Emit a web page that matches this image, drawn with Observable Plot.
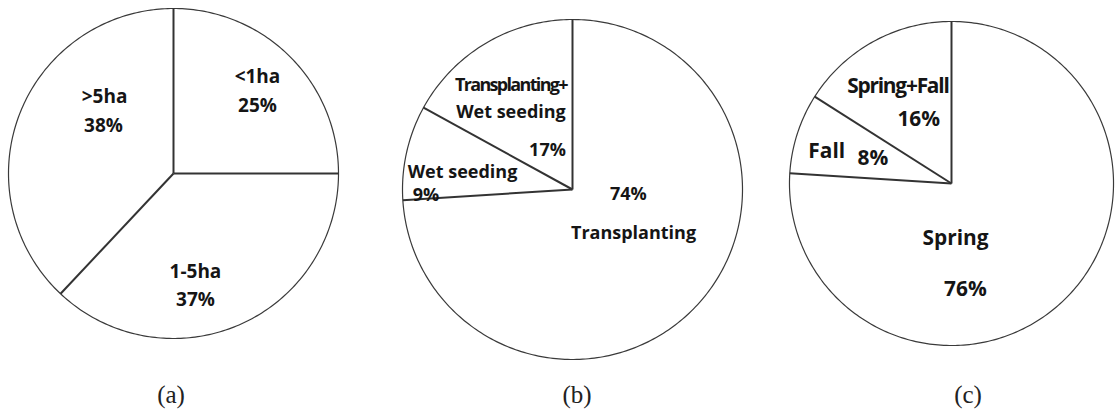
<!DOCTYPE html>
<html><head><meta charset="utf-8">
<script src="https://cdn.jsdelivr.net/npm/d3@7"></script>
<script src="https://cdn.jsdelivr.net/npm/@observablehq/plot@0.6"></script>
<style>
html,body{margin:0;padding:0;background:#fff;}
#root{position:relative;width:1117px;height:410px;overflow:hidden;background:#fff;}
.pie{position:absolute;}
.cap{position:absolute;font-family:"Liberation Serif",serif;font-size:25px;color:#222;transform:translateX(-50%);line-height:25px;white-space:nowrap;}
</style></head><body><div id="root"></div>
<script>
// ---- data ----
const farmSizeNames = ["<1ha", "1-5ha", ">5ha"];
const farmSizeValues = [25, 37, 38];
const methodNames = ["Transplanting", "Wet seeding", "Transplanting+\nWet seeding"];
const methodValues = [74, 9, 17];
const seasonNames = ["Spring", "Fall", "Spring+Fall"];
const seasonValues = [76, 8, 16];
const captions = ["(a)", "(b)", "(c)"];

// ---- layout (kept apart from the data) ----
const layouts = [
  {cx: 173, cy: 173, r: 165, font: 19, lh: 1.5, capX: 171,
   name: [[0.509, -0.606], [0.133, 0.576], [-0.418, -0.485]],
   pct:  [[0.509, -0.430], [0.133, 0.745], [-0.424, -0.309]]},
  {cx: 572, cy: 189, r: 170, font: 18, lh: 1.5, capX: 577,
   name: [[0.359, 0.241], [-0.647, -0.118], [-0.362, -0.55]],
   pct:  [[0.329, 0.012], [-0.862, 0.018], [-0.147, -0.247]]},
  {cx: 952, cy: 184, r: 163, font: 21, lh: 1.5, capX: 968,
   name: [[0.025, 0.319], [-0.770, -0.221], [-0.331, -0.620]],
   pct:  [[0.086, 0.632], [-0.485, -0.178], [-0.202, -0.417]]}
];
const condensed = {"Transplanting+": 112, "Spring+Fall": 102};

const root = document.getElementById("root");
const pad = 4;

function drawPie(names, values, L) {
  const arcs = d3.pie().sort(null).value(d => d)(values);
  const deg = Math.PI / 180;
  const slices = arcs.flatMap((a, i) => {
    const n = Math.max(2, Math.ceil((a.endAngle - a.startAngle) / deg));
    const pts = [{slice: i, x: 0, y: 0}];
    for (let k = 0; k <= n; k++) {
      const t = a.startAngle + (a.endAngle - a.startAngle) * k / n;
      pts.push({slice: i, x: Math.sin(t), y: -Math.cos(t)});
    }
    return pts;
  });
  const outline = slices.filter(p => !(p.x === 0 && p.y === 0));
  const edges = arcs.map(a => ({x: Math.sin(a.startAngle), y: -Math.cos(a.startAngle)}));
  const k = (L.r + pad) / L.r;
  const size = 2 * (L.r + pad);
  const txt = {fontFamily: "'Open Sans', sans-serif", fontWeight: "bold", fontSize: L.font, fill: "#151515", lineHeight: L.lh};
  const svg = Plot.plot({
    width: size, height: size, margin: 0,
    x: {domain: [-k, k], axis: null},
    y: {domain: [-k, k], reverse: true, axis: null},
    marks: [
      Plot.line(slices, {x: "x", y: "y", z: "slice", curve: "linear-closed", fill: "white", stroke: "none"}),
      Plot.line(outline, {x: "x", y: "y", curve: "linear-closed", stroke: "#3a3a3a", strokeWidth: 1.2}),
      Plot.link(edges, {x1: 0, y1: 0, x2: "x", y2: "y", stroke: "#333", strokeWidth: 2}),
      Plot.text(names, {x: (d, i) => L.name[i][0], y: (d, i) => L.name[i][1], text: d => d, ...txt}),
      Plot.text(values, {x: (d, i) => L.pct[i][0], y: (d, i) => L.pct[i][1], text: d => `${d}%`, ...txt})
    ]
  });
  const div = document.createElement("div");
  div.className = "pie";
  div.style.left = (L.cx - L.r - pad) + "px";
  div.style.top = (L.cy - L.r - pad) + "px";
  div.appendChild(svg);
  root.appendChild(div);
  // condense the long combined labels
  svg.querySelectorAll("tspan, text").forEach(el => {
    const t = el.textContent;
    if (condensed[t] && el.childElementCount === 0) {
      const len = el.getComputedTextLength();
      const ls = (condensed[t] - len) / t.length;
      el.style.letterSpacing = ls + "px";
    }
  });
}

drawPie(farmSizeNames, farmSizeValues, layouts[0]);
drawPie(methodNames, methodValues, layouts[1]);
drawPie(seasonNames, seasonValues, layouts[2]);

captions.forEach((c, i) => {
  const d = document.createElement("div");
  d.className = "cap";
  d.style.left = layouts[i].capX + "px";
  d.style.top = "382px";
  d.textContent = c;
  root.appendChild(d);
});
</script></body></html>
